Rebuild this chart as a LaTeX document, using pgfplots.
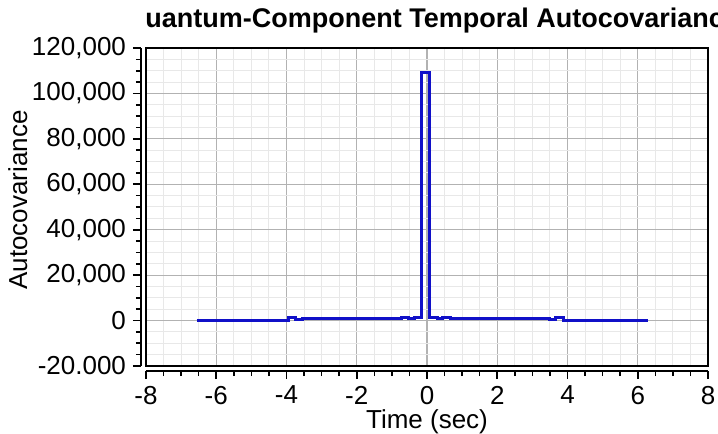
\documentclass[border=0pt]{standalone}
\usepackage{fontspec}
\setmainfont{Liberation Sans}
\usepackage{pgfplots}
\pgfplotsset{compat=1.18}

\definecolor{seriesblue}{RGB}{16,16,200}
\definecolor{majorgrid}{RGB}{178,178,178}
\definecolor{minorgrid}{RGB}{232,232,232}

\pgfplotsset{
  common/.style={
    scale only axis,
    width=281pt, height=159pt,
    at={(73pt,34pt)}, anchor=south west,
    xmin=-8, xmax=8, ymin=-20000, ymax=120000,
    xtick={-8,-6,...,8},
    ytick={-20000,0,20000,40000,60000,80000,100000,120000},
    minor x tick num=3, minor y tick num=3,
    scaled y ticks=false,
  },
}

\begin{document}
\begin{tikzpicture}
\useasboundingbox (0,0) rectangle (359pt,217pt);

% plot area: grid, frame and the autocovariance curve
\begin{axis}[common,
  grid=both,
  major grid style={majorgrid, line width=0.6pt},
  minor grid style={minorgrid, line width=0.5pt},
  axis line style={black, line width=0.8pt},
  xticklabels={}, yticklabels={},
  major tick length=0pt, minor tick length=0pt,
  tick style={draw=none},
  clip=true,
]
\addplot[const plot, seriesblue, line width=1.5pt] coordinates {
  (-6.55, 200)
  (-3.95, 1300)
  (-3.75, 600)
  (-3.55, 700)
  (-0.72, 1500)
  (-0.54, 700)
  (-0.36, 1500)
  (-0.15, 109000)
  (0.07, 1500)
  (0.30, 700)
  (0.44, 1500)
  (0.66, 700)
  (3.50, 500)
  (3.66, 1300)
  (3.88, 200)
  (6.30, 200)
};
\end{axis}

% offset axis lines carrying ticks and labels
\begin{axis}[common,
  axis x line*=bottom, axis y line*=left,
  axis x line shift=2.5pt, axis y line shift=2.5pt,
  axis line style={black, line width=0.8pt},
  tick align=outside,
  major tick length=4pt, minor tick length=2.5pt,
  tick style={black, line width=0.8pt},
  xticklabels={-8,-6,-4,-2,0,2,4,6,8},
  yticklabels={{-20.000},{0},{20,000},{40,000},{60,000},{80,000},{100,000},{120,000}},
  every tick label/.append style={font=\fontsize{13}{15}\selectfont},
  xlabel={Time (sec)}, ylabel={Autocovariance},
  label style={font=\fontsize{13}{15}\selectfont},
  xlabel style={at={(axis description cs:0.5,-0.176)}, anchor=center},
  ylabel style={at={(axis description cs:-0.228,0.522)}, anchor=center, rotate=0},
]
\end{axis}

% title, cut at the left edge of the plot frame
\begin{scope}
  \clip (72.5pt,180pt) rectangle (420pt,240pt);
  \node[anchor=base west, inner sep=0pt, font=\fontsize{13.5}{16}\selectfont\bfseries]
    at (72.5pt,203pt) {\llap{Q}uantum-Component Temporal Autocovariance};
\end{scope}
\end{tikzpicture}
\end{document}
